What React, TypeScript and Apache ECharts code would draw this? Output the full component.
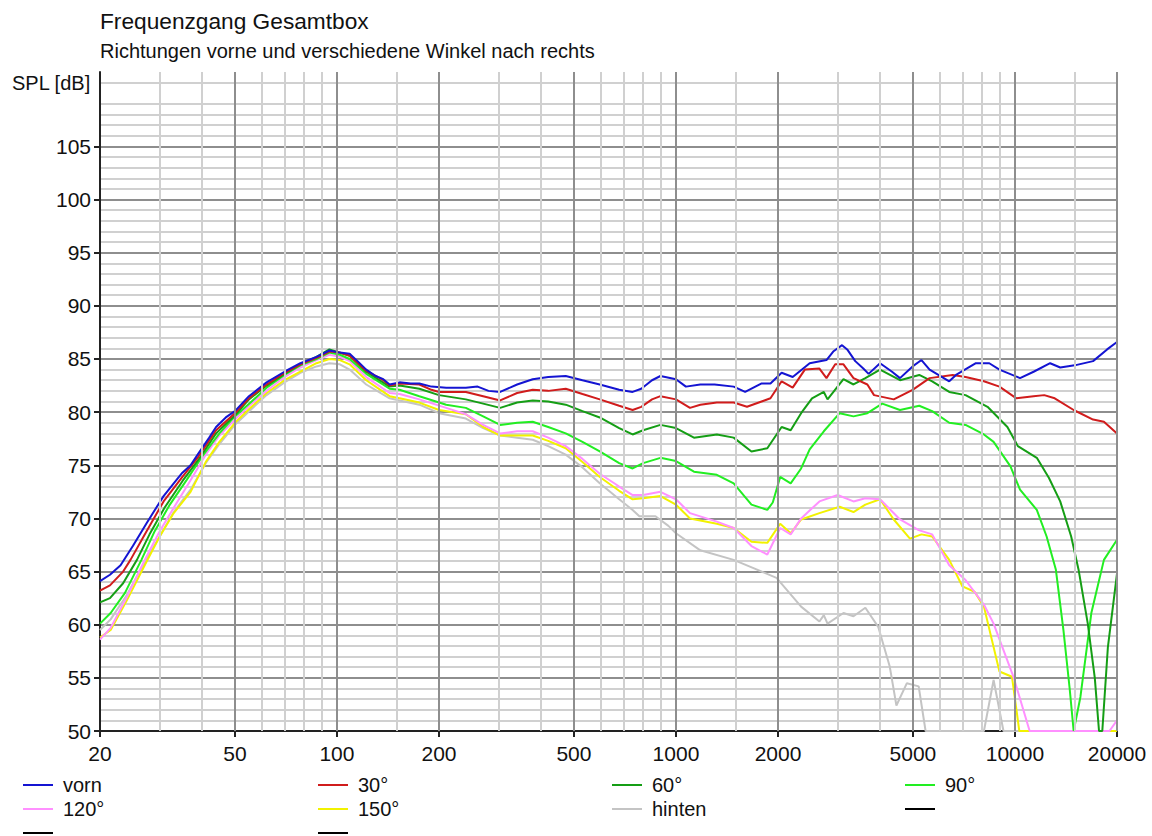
import React, { useEffect, useRef } from "react";
import * as echarts from "echarts";

const FONT = '"Liberation Sans", Arial, sans-serif';

const xTickLabels = [20, 50, 100, 200, 500, 1000, 2000, 5000, 10000, 20000];
const yTickLabels = [50, 55, 60, 65, 70, 75, 80, 85, 90, 95, 100, 105];
const majorFreqGrid = [50, 100, 200, 500, 1000, 2000, 5000, 10000, 20000];
const minorFreqGrid = [30, 40, 60, 70, 80, 90, 150, 300, 400, 600, 700, 800, 900, 1500, 3000, 4000, 6000, 7000, 8000, 9000, 15000];

const vorn: [number, number][] = [
  [20, 64.1], [21.4, 64.7], [23, 65.6], [25, 67.4], [27.5, 69.6], [30.8, 72.1], [33, 73.3], [35, 74.3], [37, 75.0],
  [39, 76.1], [42, 77.6], [44, 78.6], [47, 79.5], [50, 80.1], [55, 81.5], [62, 82.8], [70, 83.8], [78, 84.6],
  [87, 85.2], [95, 85.8], [102, 85.6], [109, 85.5], [115, 84.8], [122, 84.0], [130, 83.4], [137, 83.1], [143, 82.6],
  [153, 82.8], [165, 82.7], [175, 82.7], [190, 82.4], [210, 82.3], [240, 82.3], [260, 82.4], [280, 82.0], [303, 81.9],
  [340, 82.6], [378, 83.1], [420, 83.3], [473, 83.4], [530, 83.0], [596, 82.6], [680, 82.1], [745, 81.9], [790, 82.2],
  [850, 83.0], [900, 83.4], [1000, 83.1], [1070, 82.4], [1180, 82.6], [1300, 82.6], [1480, 82.4], [1600, 81.9],
  [1790, 82.7], [1900, 82.7], [2050, 83.7], [2210, 83.3], [2480, 84.6], [2780, 84.9], [2910, 85.7], [3090, 86.3],
  [3200, 85.9], [3380, 84.8], [3570, 84.1], [3700, 83.6], [4000, 84.6], [4340, 83.8], [4580, 83.2], [4990, 84.3],
  [5300, 84.9], [5600, 84.0], [6400, 82.9], [6700, 83.5], [7670, 84.6], [8400, 84.6], [9000, 84.0], [10350, 83.2],
  [11350, 83.8], [12700, 84.6], [13600, 84.2], [15000, 84.4], [17000, 84.8], [18700, 85.9], [20000, 86.6],
];

const deg30: [number, number][] = [
  [20, 63.2], [21.4, 63.7], [23.4, 65.0], [24.6, 66.1], [27, 68.4], [30.8, 71.6], [35, 73.9], [39, 75.8], [44, 78.3],
  [50, 79.9], [55, 81.3], [62, 82.6], [70, 83.7], [78, 84.5], [87, 85.1], [95, 85.7], [102, 85.6], [109, 85.3],
  [122, 83.9], [137, 83.0], [143, 82.5], [153, 82.7], [175, 82.6], [190, 82.1], [200, 81.9], [240, 81.9], [270, 81.5],
  [303, 81.1], [340, 81.8], [378, 82.1], [420, 82.0], [473, 82.2], [530, 81.7], [596, 81.2], [680, 80.6], [745, 80.2],
  [790, 80.5], [850, 81.2], [900, 81.5], [1000, 81.2], [1100, 80.4], [1180, 80.7], [1320, 80.9], [1480, 80.9],
  [1620, 80.5], [1900, 81.3], [2050, 82.9], [2210, 82.3], [2400, 84.0], [2650, 84.1], [2780, 83.2], [2950, 84.5],
  [3120, 84.5], [3340, 83.2], [3670, 82.6], [3840, 81.6], [4390, 81.2], [4990, 82.1], [5600, 83.2], [6550, 83.5],
  [7150, 83.3], [8100, 82.9], [9000, 82.4], [10100, 81.3], [11350, 81.5], [12200, 81.6], [13100, 81.3], [14900, 80.2],
  [17000, 79.3], [18300, 79.1], [20000, 78.0],
];

const deg60: [number, number][] = [
  [20, 62.1], [21.4, 62.5], [23.4, 63.9], [25.7, 66.1], [28, 68.5], [31, 71.0], [35, 73.5], [39, 75.5], [44, 78.0],
  [50, 79.7], [55, 81.2], [62, 82.5], [70, 83.6], [78, 84.5], [87, 85.2], [95, 85.9], [102, 85.6], [109, 85.3],
  [122, 83.8], [143, 82.4], [153, 82.5], [175, 82.2], [200, 81.6], [240, 81.2], [270, 80.8], [303, 80.4], [340, 80.9],
  [378, 81.1], [420, 81.0], [473, 80.7], [530, 80.1], [596, 79.5], [680, 78.5], [745, 77.9], [800, 78.3], [900, 78.8],
  [1000, 78.5], [1130, 77.6], [1320, 77.9], [1480, 77.6], [1670, 76.3], [1860, 76.6], [2050, 78.6], [2180, 78.3],
  [2340, 79.9], [2520, 81.3], [2730, 81.9], [2800, 81.2], [3120, 83.1], [3340, 82.6], [3620, 83.2], [4000, 84.0],
  [4580, 83.0], [5220, 83.5], [5700, 82.9], [6400, 81.9], [7150, 81.6], [8300, 80.5], [9500, 78.6], [10200, 76.8],
  [11600, 75.7], [12600, 73.8], [13600, 71.6], [14650, 68.3], [15400, 65.2], [16400, 60.1], [17200, 55.0],
  [17700, 50.0], [18100, 50.0], [18800, 57.9], [20000, 64.8],
];

const deg90: [number, number][] = [
  [20, 60.1], [21.5, 61.1], [23.7, 63.0], [26.5, 66.1], [29, 68.8], [32, 71.2], [36, 73.6], [40, 75.8], [45, 78.0],
  [50, 79.6], [56, 81.0], [62, 82.3], [70, 83.5], [78, 84.4], [87, 85.0], [95, 85.6], [102, 85.4], [109, 85.0],
  [122, 83.6], [143, 82.2], [153, 82.1], [175, 81.5], [210, 80.7], [240, 80.4], [270, 79.6], [303, 78.8], [340, 79.0],
  [378, 79.1], [420, 78.6], [473, 78.0], [530, 77.2], [596, 76.3], [680, 75.2], [745, 74.7], [800, 75.2], [900, 75.7],
  [1000, 75.4], [1130, 74.4], [1320, 74.1], [1480, 73.3], [1670, 71.3], [1860, 70.8], [1930, 71.5], [2030, 73.9],
  [2180, 73.3], [2340, 74.7], [2480, 76.5], [2730, 78.2], [3040, 79.9], [3340, 79.6], [3670, 79.9], [4060, 80.8],
  [4580, 80.2], [5220, 80.6], [5700, 80.1], [6400, 79.0], [7150, 78.8], [8100, 77.9], [8650, 77.2], [9700, 74.9],
  [10350, 72.7], [11600, 70.8], [12400, 68.3], [13200, 65.2], [13900, 59.5], [14500, 54.0], [14900, 50.0],
  [15600, 53.2], [16800, 61.1], [18300, 66.1], [20000, 68.0],
];

const deg120: [number, number][] = [
  [20, 58.6], [21.5, 59.7], [24, 62.6], [27.1, 66.1], [30, 68.8], [33, 71.0], [37, 73.6], [41, 76.0], [45, 77.8],
  [50, 79.3], [56, 80.8], [62, 82.0], [70, 83.3], [78, 84.2], [87, 84.9], [95, 85.4], [102, 85.2], [109, 84.8],
  [122, 83.3], [143, 81.8], [153, 81.7], [175, 81.2], [210, 80.4], [240, 79.8], [270, 78.8], [303, 78.0], [340, 78.2],
  [378, 78.2], [420, 77.6], [473, 76.8], [530, 75.6], [596, 74.2], [680, 73.0], [745, 72.2], [800, 72.2], [900, 72.5],
  [1000, 71.8], [1100, 70.5], [1320, 69.7], [1480, 69.1], [1670, 67.4], [1860, 66.6], [2030, 69.1], [2180, 68.5],
  [2340, 70.0], [2650, 71.6], [3000, 72.2], [3340, 71.6], [3620, 71.9], [4000, 71.8], [4580, 69.9], [5200, 68.9],
  [5700, 68.5], [6400, 65.6], [7150, 64.2], [8100, 61.9], [8650, 60.1], [9900, 55.1], [11050, 50.0], [19000, 50.0],
  [20000, 51.0],
];

const deg150: [number, number][] = [
  [20, 58.8], [21.5, 59.5], [24, 62.3], [27.5, 66.0], [30, 68.3], [33, 70.5], [37, 72.5], [41, 75.3], [45, 77.2],
  [50, 79.0], [56, 80.5], [62, 81.8], [70, 83.0], [78, 83.8], [87, 84.6], [95, 85.0], [102, 84.9], [109, 84.5],
  [122, 83.0], [143, 81.5], [153, 81.3], [175, 80.9], [200, 80.2], [240, 79.8], [270, 78.6], [303, 77.8], [340, 77.8],
  [378, 77.8], [420, 77.3], [473, 76.6], [530, 75.3], [596, 73.9], [680, 72.6], [745, 71.8], [800, 71.9], [900, 72.1],
  [1000, 71.3], [1100, 70.0], [1320, 69.5], [1480, 69.1], [1670, 67.8], [1860, 67.7], [2030, 69.5], [2180, 68.6],
  [2340, 69.9], [2650, 70.5], [3040, 71.1], [3340, 70.6], [3620, 71.3], [4000, 71.8], [4390, 69.9], [4900, 68.1],
  [5300, 68.5], [5700, 68.3], [6400, 66.1], [7000, 63.6], [7600, 63.1], [8100, 61.7], [9000, 55.6], [9800, 55.1],
  [10300, 50.0], [20000, 50.0],
];

const hinten: [number, number][] = [
  [20, 59.5], [21.5, 60.5], [24, 62.8], [27, 65.8], [30, 68.3], [33, 70.6], [37, 72.7], [41, 75.2], [45, 77.0],
  [50, 78.8], [56, 80.3], [62, 81.6], [70, 82.8], [78, 83.7], [87, 84.3], [95, 84.6], [102, 84.5], [109, 84.0],
  [122, 82.6], [143, 81.3], [153, 81.1], [175, 80.7], [200, 79.9], [240, 79.4], [270, 78.5], [303, 77.8], [340, 77.6],
  [378, 77.4], [420, 76.8], [473, 76.0], [530, 74.8], [596, 73.3], [680, 71.8], [745, 70.8], [780, 70.2], [870, 70.2],
  [950, 69.3], [1000, 68.6], [1180, 67.0], [1480, 66.1], [1700, 65.3], [1980, 64.4], [2340, 61.7], [2650, 60.3],
  [2730, 60.9], [2800, 60.1], [3120, 61.1], [3340, 60.8], [3620, 61.6], [3950, 59.8], [4270, 56.1], [4470, 52.4],
  [4800, 54.5], [5200, 54.2], [5450, 50.0], [8100, 50.0], [8650, 54.8], [9250, 50.0], [20000, 50.0],
];

const seriesNames = ["vorn", "30°", "60°", "90°", "120°", "150°", "hinten"];
const seriesColors = ["#1414d2", "#d01c1c", "#159e15", "#22ee22", "#ff90ff", "#f2f200", "#c4c4c4"];
const seriesData = [vorn, deg30, deg60, deg90, deg120, deg150, hinten];

const legendNames = ["vorn", "30°", "60°", "90°", "120°", "150°", "hinten", "", "", ""];
const legendColors = [...seriesColors, "#000000", "#000000", "#000000"];

export default function App() {
  const ref = useRef<HTMLDivElement>(null);

  useEffect(() => {
    if (!ref.current) return;
    const chart = echarts.init(ref.current, undefined, { renderer: "svg" });

    const gridSeries = (values: number[], color: string, name: string) => ({
      name,
      type: "line",
      data: [],
      z: 1,
      silent: true,
      markLine: {
        silent: true,
        symbol: ["none", "none"],
        label: { show: false },
        animation: false,
        lineStyle: { type: "solid", color, width: 2 },
        emphasis: { disabled: true },
        data: values.map((f) => ({ xAxis: f })),
      },
    });

    const curves = seriesNames
      .map((name, i) => ({
        name,
        type: "line",
        z: 3,
        showSymbol: false,
        symbol: "none",
        smooth: false,
        data: seriesData[i],
        lineStyle: { color: seriesColors[i], width: 2 },
        itemStyle: { color: seriesColors[i] },
        emphasis: { disabled: true },
      }))
      .reverse();

    const colX = [23, 318, 612, 905];
    const rowY = [785, 809, 833];
    const legendGraphics: any[] = [];
    legendNames.forEach((name, i) => {
      const cx = colX[i % 4];
      const cy = rowY[Math.floor(i / 4)];
      legendGraphics.push({
        type: "line",
        shape: { x1: cx, y1: cy, x2: cx + 30, y2: cy },
        style: { stroke: legendColors[i], lineWidth: 2 },
        silent: true,
      });
      if (name) {
        legendGraphics.push({
          type: "text",
          x: cx + 40,
          y: cy,
          silent: true,
          style: {
            text: name,
            font: `20px ${FONT}`,
            fill: "#111111",
            align: "left",
            verticalAlign: "middle",
            textAlign: "left",
            textVerticalAlign: "middle",
          },
        });
      }
    });

    const textEl = (text: string, x: number, y: number, size: number) => ({
      type: "text",
      x,
      y,
      silent: true,
      style: {
        text,
        font: `${size}px ${FONT}`,
        fill: "#111111",
        align: "left",
        verticalAlign: "middle",
        textAlign: "left",
        textVerticalAlign: "middle",
      },
    });

    const ySplitColors = [...yTickLabels.map(() => "#8e8e8e"), "#8e8e8e", "#d0d0d0"];

    const option: any = {
      animation: false,
      backgroundColor: "#ffffff",
      textStyle: { fontFamily: FONT },
      grid: { left: 100, top: 72, width: 1017, height: 659, containLabel: false },
      xAxis: {
        type: "log",
        logBase: 10,
        min: 20,
        max: 20000,
        axisLine: { show: true, lineStyle: { color: "#222222", width: 2 } },
        axisTick: { show: true, length: 6, customValues: xTickLabels, lineStyle: { color: "#222222", width: 2 } },
        axisLabel: {
          customValues: xTickLabels,
          fontSize: 21,
          color: "#111111",
          margin: 12,
          fontFamily: FONT,
          formatter: (v: number) => String(Math.round(v)),
        },
        splitLine: { show: false },
        minorTick: { show: false },
        minorSplitLine: { show: false },
      },
      yAxis: {
        type: "value",
        min: 50,
        max: 112,
        interval: 5,
        axisLine: { show: true, lineStyle: { color: "#222222", width: 2 } },
        axisTick: { show: true, length: 6, customValues: yTickLabels, lineStyle: { color: "#222222", width: 2 } },
        axisLabel: {
          customValues: yTickLabels,
          fontSize: 21,
          color: "#111111",
          margin: 9,
          fontFamily: FONT,
        },
        splitLine: { show: true, lineStyle: { color: ySplitColors, width: 2 } },
        minorTick: { show: false, splitNumber: 5 },
        minorSplitLine: { show: true, lineStyle: { color: "#d0d0d0", width: 2 } },
      },
      series: [
        gridSeries(minorFreqGrid, "#d0d0d0", "minorGrid"),
        gridSeries(majorFreqGrid, "#8e8e8e", "majorGrid"),
        ...curves,
      ],
      graphic: [
        textEl("Frequenzgang Gesamtbox", 100, 21, 22.7),
        textEl("Richtungen vorne und verschiedene Winkel nach rechts", 100, 51, 20),
        textEl("SPL [dB]", 12, 83, 20),
        ...legendGraphics,
      ],
    };

    chart.setOption(option);
    return () => {
      chart.dispose();
    };
  }, []);

  return (
    <div
      ref={ref}
      style={{ position: "absolute", left: 0, top: 0, width: 1152, height: 836, background: "#ffffff" }}
    />
  );
}
